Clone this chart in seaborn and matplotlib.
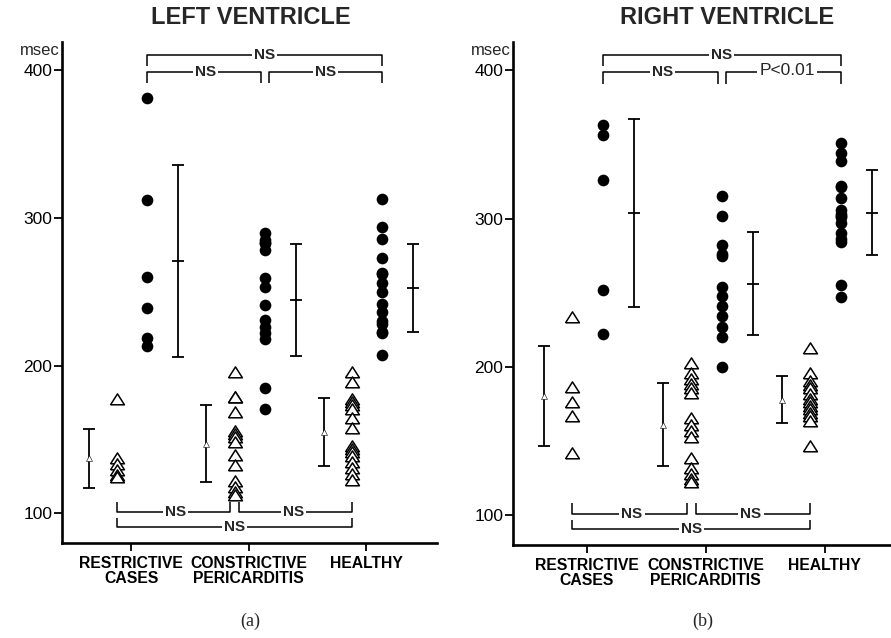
import numpy as np
import pandas as pd
import matplotlib
matplotlib.use("Agg")
import matplotlib.pyplot as plt
from matplotlib.markers import MarkerStyle
import seaborn as sns

# ---------------- data (msec) ----------------
categories = ["RESTRICTIVE\nCASES", "CONSTRICTIVE\nPERICARDITIS", "HEALTHY"]
yticks = [100, 200, 300, 400]

# Left ventricle
lv_tri_restrictive = [177, 137, 133, 129, 125, 124]
lv_dot_restrictive = [381, 312, 260, 239, 219, 213]
lv_tri_constrictive = [195, 178, 178, 168, 155, 153, 151, 148, 139, 132, 121, 117, 114, 112]
lv_dot_constrictive = [290, 285, 283, 283, 278, 259, 253, 241, 231, 226, 222, 218, 185, 171]
lv_tri_healthy = [195, 188, 177, 175, 173, 170, 164, 157, 145, 143, 141, 138, 134, 130, 126, 122]
lv_dot_healthy = [313, 294, 286, 273, 263, 262, 256, 250, 242, 236, 230, 228, 223, 222, 207]

# Right ventricle
rv_tri_restrictive = [233, 186, 176, 166, 141]
rv_dot_restrictive = [363, 356, 326, 252, 222]
rv_tri_constrictive = [202, 195, 191, 188, 185, 182, 165, 160, 156, 152, 138, 131, 127, 124, 122]
rv_dot_constrictive = [315, 302, 282, 276, 275, 254, 248, 241, 234, 227, 220, 200]
rv_tri_healthy = [212, 195, 190, 187, 185, 181, 178, 176, 173, 171, 168, 166, 163, 146]
rv_dot_healthy = [351, 344, 339, 322, 321, 314, 306, 303, 302, 301, 297, 290, 286, 284, 255, 247]

lv_labels = ["NS", "NS", "NS", "NS", "NS", "NS"]      # top outer, top left, top right, bottom left, bottom right, bottom outer
rv_labels = ["NS", "NS", "P<0.01", "NS", "NS", "NS"]

# ---------------- style ----------------
sns.set_style("white")
plt.rcParams["font.family"] = ["Liberation Sans", "DejaVu Sans"]

fig = plt.figure(figsize=(8.91, 6.38), dpi=100)
W, H = 891, 638
ax1 = fig.add_axes([62 / W, 1 - 543 / H, (437 - 62) / W, (543 - 42) / H])
ax2 = fig.add_axes([513 / W, 1 - 545 / H, (890 - 513) / W, (545 - 42) / H])

TRI_EB, TRI, DOT, DOT_EB = -0.36, -0.12, 0.135, 0.40
tri_marker = MarkerStyle(np.array([[-1.0, -0.62], [1.0, -0.62], [0.0, 0.95], [-1.0, -0.62]]))


def draw_panel(ax, tris, dots, labels, xlim):
    rows = []
    for i, (t, d) in enumerate(zip(tris, dots)):
        rows += [{"pos": i + TRI, "val": v, "kind": "tri"} for v in t]
        rows += [{"pos": i + DOT, "val": v, "kind": "dot"} for v in d]
    df = pd.DataFrame(rows)

    sns.stripplot(data=df[df.kind == "dot"], x="pos", y="val", native_scale=True,
                  orient="x", jitter=False, color="black", size=8.4,
                  linewidth=0, ax=ax, zorder=3)
    sns.stripplot(data=df[df.kind == "tri"], x="pos", y="val", native_scale=True,
                  orient="x", jitter=False, color="white", edgecolor="black",
                  linewidth=1.1, marker=tri_marker, size=10, ax=ax, zorder=3)

    # mean +/- SD bars
    for i, (t, d) in enumerate(zip(tris, dots)):
        for vals, off, mk in ((t, TRI_EB, "tri"), (d, DOT_EB, "dot")):
            m, s = np.mean(vals), np.std(vals, ddof=1)
            ax.errorbar([i + off], [m], yerr=[s], fmt="none", ecolor="black",
                        elinewidth=1.3, capsize=4, capthick=1.3, zorder=2)
            if mk == "dot":
                ax.plot([i + off], [m], marker="_", ms=8, mew=1.3, color="black", zorder=3)
            else:
                ax.plot([i + off], [m], marker="^", ms=4, mfc="white", mec="black",
                        mew=0.4, zorder=3)

    # significance brackets
    lw = 1.1
    kw = dict(color="black", lw=lw, solid_capstyle="butt", zorder=2)
    tkw = dict(ha="center", va="center", fontsize=11, fontweight="bold",
               bbox=dict(facecolor="white", edgecolor="none", pad=1.5), zorder=4)
    g = 0.035
    # top outer
    ax.plot([DOT, DOT, 2 + DOT, 2 + DOT], [403, 410, 410, 403], **kw)
    ax.text(1 + DOT, 410, labels[0], **tkw)
    # top inner
    ax.plot([DOT, DOT, 1 + DOT - g, 1 + DOT - g], [391, 399, 399, 391], **kw)
    ax.text(0.5 + DOT, 399, labels[1], **tkw)
    ax.plot([1 + DOT + g, 1 + DOT + g, 2 + DOT, 2 + DOT], [391, 399, 399, 391], **kw)
    if labels[2] == "NS":
        ax.text(1.5 + DOT + g / 2, 399, labels[2], **tkw)
    else:
        t2 = dict(tkw)
        t2.update(fontsize=12.5, fontweight="normal")
        ax.text(1.5 + DOT + 0.05, 400, labels[2], **t2)
    # bottom inner
    ax.plot([TRI, TRI, 1 + TRI - g, 1 + TRI - g], [108, 101, 101, 108], **kw)
    ax.text(0.5 + TRI, 101, labels[3], **tkw)
    ax.plot([1 + TRI + g, 1 + TRI + g, 2 + TRI, 2 + TRI], [108, 101, 101, 108], **kw)
    ax.text(1.5 + TRI, 101, labels[4], **tkw)
    # bottom outer
    ax.plot([TRI, TRI, 2 + TRI, 2 + TRI], [97, 91, 91, 97], **kw)
    ax.text(1 + TRI, 91, labels[5], **tkw)

    ax.set_xlim(*xlim)
    ax.set_ylim(80, 419)
    ax.set_xticks(range(len(categories)))
    ax.set_xticklabels(categories, fontsize=11.3, fontweight="bold", linespacing=1.05,
                       va="top")
    ax.set_yticks(yticks)
    ax.set_yticklabels([str(v) for v in yticks], fontsize=12.5)
    ax.set_xlabel("")
    ax.set_ylabel("")
    for sp in ("top", "right"):
        ax.spines[sp].set_visible(False)
    for sp in ("left", "bottom"):
        ax.spines[sp].set_linewidth(1.9)
        ax.spines[sp].set_color("black")
    ax.tick_params(axis="y", direction="out", length=6, width=1.3, pad=1,
                   left=True, colors="black")
    ax.tick_params(axis="x", direction="out", length=6, width=1.3, pad=3,
                   bottom=True, colors="black")
    ax.text(-0.005, 413.5, "msec", transform=ax.get_yaxis_transform(),
            ha="right", va="center", fontsize=12)


draw_panel(ax1,
           [lv_tri_restrictive, lv_tri_constrictive, lv_tri_healthy],
           [lv_dot_restrictive, lv_dot_constrictive, lv_dot_healthy],
           lv_labels, (-0.587, 2.60))
draw_panel(ax2,
           [rv_tri_restrictive, rv_tri_constrictive, rv_tri_healthy],
           [rv_dot_restrictive, rv_dot_constrictive, rv_dot_healthy],
           rv_labels, (-0.62, 2.55))

fig.text(251 / W, 1 - 18 / H, "LEFT VENTRICLE", ha="center", va="center",
         fontsize=17, fontweight="bold")
fig.text(727 / W, 1 - 18 / H, "RIGHT VENTRICLE", ha="center", va="center",
         fontsize=17, fontweight="bold")
fig.text(250 / W, 1 - 621 / H, "(a)", ha="center", va="center", fontsize=13,
         family=["Liberation Serif", "DejaVu Serif"])
fig.text(703 / W, 1 - 621 / H, "(b)", ha="center", va="center", fontsize=13,
         family=["Liberation Serif", "DejaVu Serif"])

fig.savefig("out.png", dpi=100, facecolor="white")
